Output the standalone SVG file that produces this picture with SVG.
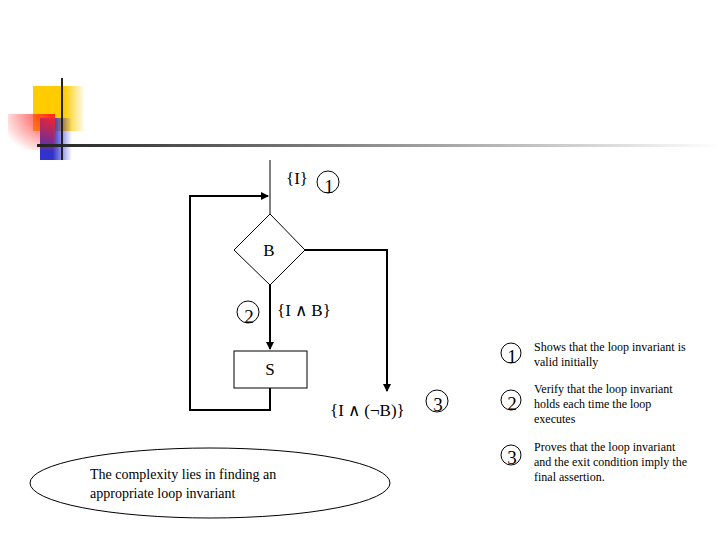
<svg xmlns="http://www.w3.org/2000/svg" width="720" height="540" viewBox="0 0 720 540">
<defs>
<linearGradient id="hl" x1="0" x2="1"><stop offset="0" stop-color="#222"/><stop offset="1" stop-color="#fff"/></linearGradient>
<linearGradient id="yl" x1="0" x2="1"><stop offset="0.6" stop-color="#fc0"/><stop offset="1" stop-color="#fc0" stop-opacity="0"/></linearGradient>
<linearGradient id="bl" x1="0" x2="1"><stop offset="0.4" stop-color="#33c"/><stop offset="1" stop-color="#33c" stop-opacity="0"/></linearGradient>
<radialGradient id="rd" cx="1" cy="0" r="1.2"><stop offset="0" stop-color="#f22"/><stop offset="1" stop-color="#f22" stop-opacity="0"/></radialGradient>
<marker id="ar" markerWidth="8" markerHeight="8" refX="7" refY="4" orient="auto" markerUnits="userSpaceOnUse"><path d="M0,0 L8,4 L0,8 Z" fill="#000"/></marker>
<style>
text{font-family:"Liberation Serif",serif;fill:#000}
.t{font-size:17px}
.n{font-size:19px}
.s{font-size:12px}
.c{fill:none;stroke:#000;stroke-width:1}
.l{fill:none;stroke:#000;stroke-width:1}
.b{fill:none;stroke:#000;stroke-width:2}
</style>
</defs>
<g id="logo">
<rect x="33" y="86" width="52" height="45" fill="url(#yl)"/>
<rect x="40" y="118" width="32" height="42" fill="url(#bl)"/>
<rect x="8" y="114" width="47" height="36" fill="url(#rd)"/>
<rect x="37" y="144" width="683" height="3" fill="url(#hl)"/>
<rect x="61" y="78" width="2" height="82" fill="#222"/>
</g>
<g id="connectors">
<line class="l" x1="270" y1="160" x2="270" y2="214"/>
<polyline class="b" points="270,388 270,410 190,410 190,196 268,196" marker-end="url(#ar)"/>
<line class="b" x1="270" y1="285" x2="270" y2="349" marker-end="url(#ar)"/>
<polyline class="b" points="305,250 387,250 387,391" marker-end="url(#ar)"/>
</g>
<g id="B"><polygon class="l" fill="#fff" points="270,214 305,250 270,285 234,250"/><text class="t" x="269" y="256" text-anchor="middle">B</text></g>
<g id="S"><rect class="l" x="234" y="351" width="73" height="37"/><text class="t" x="270" y="375" text-anchor="middle">S</text></g>
<g id="labels">
<text class="t" x="286" y="184">{I}</text>
<circle class="c" cx="328" cy="182" r="11"/><text class="n" x="329" y="193" text-anchor="middle">1</text>
<circle class="c" cx="248" cy="312" r="11"/><text class="n" x="249" y="323" text-anchor="middle">2</text>
<text class="t" x="277" y="316">{I ∧ B}</text>
<text class="t" x="330" y="416">{I ∧ (¬B)}</text>
<circle class="c" cx="437" cy="401" r="11"/><text class="n" x="438" y="411" text-anchor="middle">3</text>
</g>
<g id="legend">
<circle class="c" cx="511" cy="353" r="10"/><text class="n" x="512" y="363" text-anchor="middle">1</text>
<text class="s" x="534" y="351">Shows that the loop invariant is</text>
<text class="s" x="534" y="366">valid initially</text>
<circle class="c" cx="511" cy="400" r="10"/><text class="n" x="512" y="410" text-anchor="middle">2</text>
<text class="s" x="534" y="393">Verify that the loop invariant</text>
<text class="s" x="534" y="408">holds each time the loop</text>
<text class="s" x="534" y="423">executes</text>
<circle class="c" cx="511" cy="455" r="10"/><text class="n" x="512" y="464" text-anchor="middle">3</text>
<text class="s" x="534" y="451">Proves that the loop invariant</text>
<text class="s" x="534" y="466">and the exit condition imply the</text>
<text class="s" x="534" y="481">final assertion.</text>
</g>
<g id="note">
<ellipse class="l" cx="210" cy="483" rx="180" ry="35"/>
<text x="90" y="479" style="font-size:14px">The complexity lies in finding an</text>
<text x="90" y="498" style="font-size:14px">appropriate loop invariant</text>
</g>
</svg>
